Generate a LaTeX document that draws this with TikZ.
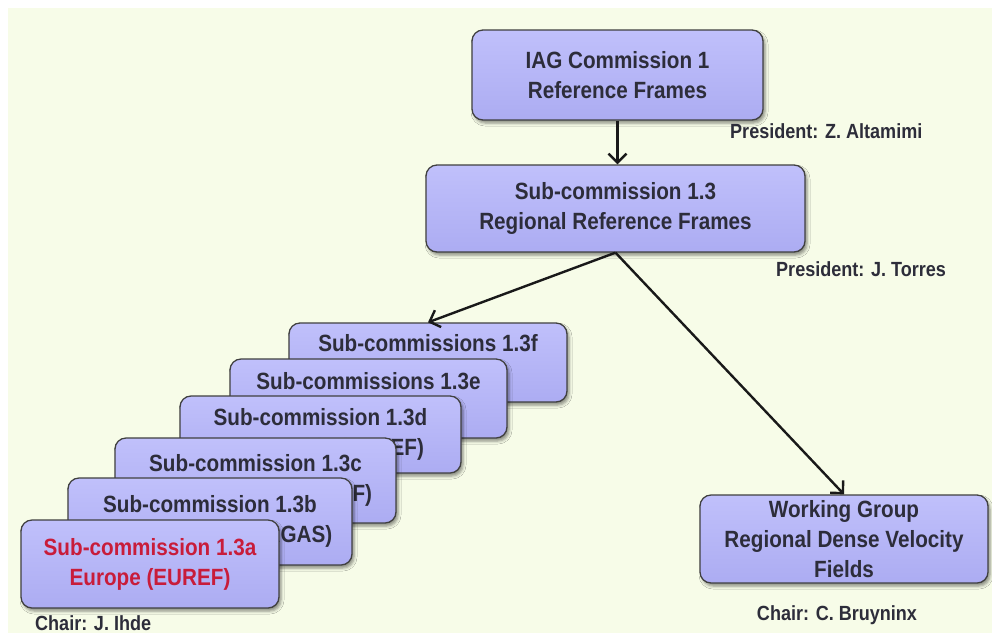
\documentclass[tikz,border=0pt]{standalone}
\usepackage{fontspec}
\newfontfamily\orgfont{Liberation Sans}[FakeStretch=0.88]
\usetikzlibrary{arrows.meta,positioning,shadows.blur}
\definecolor{paper}{RGB}{247,252,232}
\definecolor{boxtop}{RGB}{192,192,251}
\definecolor{boxbot}{RGB}{172,172,242}
\definecolor{ink}{RGB}{45,45,58}
\definecolor{eurefred}{RGB}{200,28,58}
\tikzset{
  unit/.style={draw=black!75, line width=1.3pt, rounded corners=11pt,
               top color=boxtop, bottom color=boxbot,
               inner sep=0pt, align=center, text=ink,
               font=\orgfont\bfseries\fontsize{23.5}{30}\selectfont,
               blur shadow={shadow xshift=2pt, shadow yshift=-3pt,
                            shadow blur radius=3pt, shadow opacity=45}},
  person/.style={text=ink, inner sep=0pt,
                 font=\orgfont\bfseries\fontsize{20.5}{24}\selectfont},
  link/.style={draw=black!90, line width=2.4pt,
               -{Straight Barb[length=9pt,width=18pt]}}
}
\begin{document}
\begin{tikzpicture}[x=1pt,y=-1pt]
  \fill[white] (0,0) rectangle (992,633);
  \fill[paper] (8,8) rectangle (992,633);
  \useasboundingbox (0,0) rectangle (992,633);

  \node[unit, minimum width=291pt, minimum height=90pt] (iag) at (617.5,75)
    {IAG Commission 1\\Reference Frames};
  \node[unit, minimum width=379pt, minimum height=87pt] (sub13) at (615.5,208.5)
    {Sub-commission 1.3\\Regional Reference Frames};
  \node[unit, minimum width=288pt, minimum height=88pt] (wg) at (844,539)
    {Working Group\\Regional Dense Velocity\\Fields};

  % regional sub-commissions, back to front
  \foreach \n/\cx/\cy/\w/\h/\tc/\la/\lb in {
    f/428/362.5/278/79/ink/Sub-commissions 1.3f/\strut,
    e/368.5/398.5/277/79/ink/Sub-commissions 1.3e/Africa (AFREF),
    d/320.5/434.5/281/77/ink/Sub-commission 1.3d/Asia-Pacific (APREF),
    c/255.5/480.5/281/85/ink/Sub-commission 1.3c/North America (NAREF),
    b/210/521.5/284/87/ink/Sub-commission 1.3b/South America (SIRGAS),
    a/150/564/258/88/eurefred/Sub-commission 1.3a/Europe (EUREF)
  }{
    \node[unit, text=\tc, minimum width=\w pt, minimum height=\h pt] (sc\n) at (\cx,\cy)
      {\la\\\lb};
  }

  \draw[link] (iag.south) -- (iag.south |- sub13.north);
  \draw[link] (sub13.south) -- (scf.north);
  \draw[link] (sub13.south) -- (wg.north);

  \node[person, anchor=base west] (presiag) at (730,138) {President: Z. Altamimi};
  \node[person, anchor=base west] (pressub) at (776,276) {President: J. Torres};
  \node[person, anchor=base] (chairwg) at (837,620) {Chair: C. Bruyninx};
  \node[person, anchor=base west] (chaira) at (35,630) {Chair: J. Ihde};
\end{tikzpicture}
\end{document}
